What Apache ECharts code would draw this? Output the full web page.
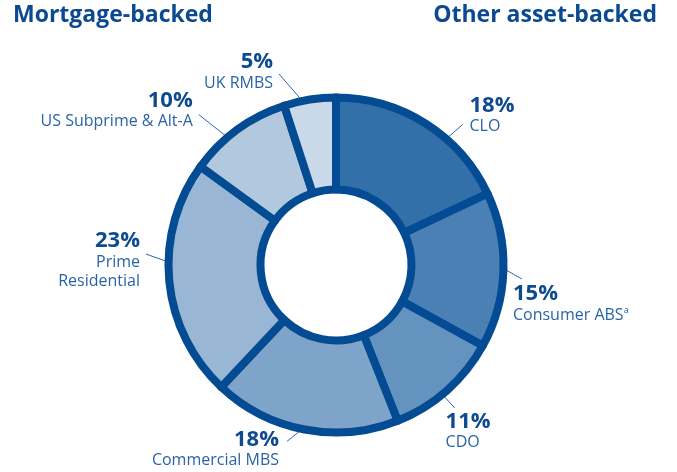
<!DOCTYPE html>
<html>
<head>
<meta charset="utf-8">
<script src="https://cdn.jsdelivr.net/npm/echarts@6/dist/echarts.min.js"></script>
<style>
  html, body { margin: 0; padding: 0; background: #ffffff; }
  #chart { width: 677px; height: 472px; }
</style>
</head>
<body>
<div id="chart"></div>
<script>
// Portfolio split by asset class (percent of total)
const categories = ['CLO', 'Consumer ABS', 'CDO', 'Commercial MBS', 'Prime Residential', 'US Subprime & Alt-A', 'UK RMBS'];
const shares = [18, 15, 11, 18, 23, 10, 5];
const groupTitles = ['Mortgage-backed', 'Other asset-backed'];
// caption lines printed under each percentage
const captionLines = [['CLO'], ['Consumer ABS{sup|a}'], ['CDO'], ['Commercial MBS'], ['Prime', 'Residential'], ['US Subprime & Alt-A'], ['UK RMBS']];

const sliceColors = ['#336fa9', '#4b80b5', '#6593c0', '#7fa4ca', '#9ab6d5', '#b1c8df', '#cad9e9'];
const RING = '#034b93';
const CX = 336, CY = 265;
const LEADER_R = 156;

// leader tweaks per slice: turn (deg, clockwise) of the leader start,
// leader vector, and where the caption block sits relative to the leader end
const leaderStyle = [
  { turn: 8.2,  lead: [25, -22], text: [7, -9.5],  align: 'left' },
  { turn: -2.9, lead: [30, 17],  text: [-9, 24.5], align: 'left' },
  { turn: 2.2,  lead: [20, 22],  text: [-9, 23.5], align: 'left' },
  { turn: -2.7, lead: [-27, 22], text: [-8, 7.5],  align: 'right' },
  { turn: 5.0,  lead: [-34, -12], text: [-6, 6],   align: 'right' },
  { turn: -3.5, lead: [-38, -30], text: [-6, -4.5], align: 'right' },
  { turn: -0.2, lead: [-32, -37], text: [-6, -2.5], align: 'right' }
];

const FONT = '"Open Sans", "Noto Sans", sans-serif';

const chart = echarts.init(document.getElementById('chart'), null, { renderer: 'canvas' });

chart.setOption({
  animation: false,
  title: [
    { text: groupTitles[0], left: 13, top: 4, padding: 0,
      textStyle: { fontFamily: FONT, fontWeight: 700, fontSize: 23, color: '#0b4a90' } },
    { text: groupTitles[1], right: 20, top: 4, padding: 0,
      textStyle: { fontFamily: FONT, fontWeight: 700, fontSize: 23, color: '#0b4a90' } }
  ],
  series: [{
    type: 'pie',
    center: [CX, CY],
    radius: [75.5, 167.5],
    startAngle: 90,
    clockwise: true,
    avoidLabelOverlap: false,
    silent: true,
    emphasis: { disabled: true },
    itemStyle: { borderColor: RING, borderWidth: 8 },
    label: {
      show: true,
      position: 'outside',
      fontFamily: FONT,
      formatter: function (p) {
        const lines = captionLines[p.dataIndex].map(function (s) {
          return s.indexOf('{') >= 0 ? '{n|' + s.replace('{sup|', '}{sup|') : '{n|' + s + '}';
        });
        return '{p|' + p.value + '%}\n' + lines.join('\n');
      },
      rich: {
        p: { fontFamily: FONT, fontWeight: 700, fontSize: 22, lineHeight: 23, color: '#0e4a8f' },
        n: { fontFamily: FONT, fontSize: 16, lineHeight: 19, color: '#2a64a5' },
        sup: { fontFamily: FONT, fontSize: 9, lineHeight: 12, verticalAlign: 'top', color: '#2a64a5' }
      }
    },
    labelLine: {
      show: true,
      length: 20,
      length2: 0,
      lineStyle: { color: '#2d67a6', width: 1 }
    },
    labelLayout: function (params) {
      const cfg = leaderStyle[params.dataIndex];
      const p0 = params.labelLinePoints[0];
      const a = Math.atan2(p0[1] - CY, p0[0] - CX) + cfg.turn * Math.PI / 180;
      const sx = CX + LEADER_R * Math.cos(a);
      const sy = CY + LEADER_R * Math.sin(a);
      const ex = sx + cfg.lead[0];
      const ey = sy + cfg.lead[1];
      return {
        x: ex + cfg.text[0],
        y: ey + cfg.text[1],
        align: cfg.align,
        verticalAlign: 'middle',
        labelLinePoints: [[sx, sy], [ex, ey]]
      };
    },
    data: categories.map(function (name, i) {
      return { name: name, value: shares[i], itemStyle: { color: sliceColors[i] } };
    })
  }]
});
</script>
</body>
</html>
